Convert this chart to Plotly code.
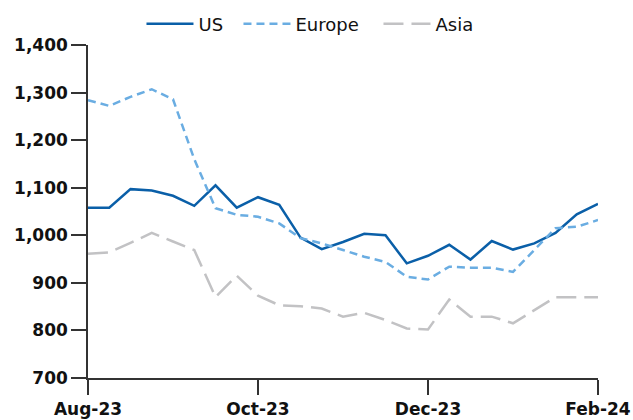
import plotly.graph_objects as go

# weekly points, Aug-23 .. Feb-24
weeks = list(range(25))
tick_pos = [0, 8, 16, 24]
tick_labels = ["Aug-23", "Oct-23", "Dec-23", "Feb-24"]

us = [1058, 1058, 1097, 1094, 1083, 1062, 1105, 1058, 1080, 1064, 995, 971,
      986, 1003, 1000, 941, 957, 980, 949, 988, 970, 983, 1005, 1044, 1066]
europe = [1284, 1272, 1291, 1307, 1286, 1160, 1057, 1043, 1039, 1025, 994, 983,
          969, 955, 944, 913, 907, 934, 932, 932, 923, 969, 1015, 1018, 1032]
asia = [961, 964, 984, 1005, 987, 969, 870, 915, 873, 853, 851, 846,
        829, 837, 822, 804, 802, 865, 829, 829, 815, 843, 870, 870, 870]

FONT = "DejaVu Sans"
AXIS = "#333333"

fig = go.Figure()
fig.add_trace(go.Scatter(x=weeks, y=us, name="US", mode="lines", legendwidth=35,
                         line=dict(color="#0A5FA8", width=2.5)))
fig.add_trace(go.Scatter(x=weeks, y=europe, name="Europe", mode="lines", legendwidth=78,
                         line=dict(color="#6AADE2", width=2.5, dash="8px,5px")))
fig.add_trace(go.Scatter(x=weeks, y=asia, name="Asia", mode="lines", legendwidth=50,
                         line=dict(color="#C2C2C4", width=2.5, dash="20px,8px")))

axis_style = dict(showline=True, linecolor=AXIS, linewidth=1.5,
                  ticks="outside", ticklen=15, tickwidth=1.5, tickcolor=AXIS,
                  showgrid=False, zeroline=False, automargin=False,
                  tickfont=dict(family=FONT, size=17, color="#111111", weight="bold"))
fig.update_xaxes(range=[0, 24], tickvals=tick_pos, ticktext=tick_labels, **axis_style)
fig.update_yaxes(range=[700, 1400], dtick=100, tickformat=",", **axis_style)

fig.update_layout(
    width=633, height=420,
    margin=dict(l=88, r=35, t=45, b=42, autoexpand=False),
    plot_bgcolor="white", paper_bgcolor="white",
    font=dict(family=FONT, size=18, color="#111111"),
    showlegend=True,
    legend=dict(orientation="h", xref="container", yref="container",
                x=0.2235, xanchor="left", y=1 - 24 / 420, yanchor="middle",
                font=dict(family=FONT, size=18, color="#111111"),
                itemwidth=47, bgcolor="rgba(0,0,0,0)"),
)

# drop the default page margin so the figure fills the window exactly
fig.write_html("out.html", config={"displayModeBar": False},
               post_script="document.body.style.margin='0';"
                           "document.body.style.overflow='hidden';")
